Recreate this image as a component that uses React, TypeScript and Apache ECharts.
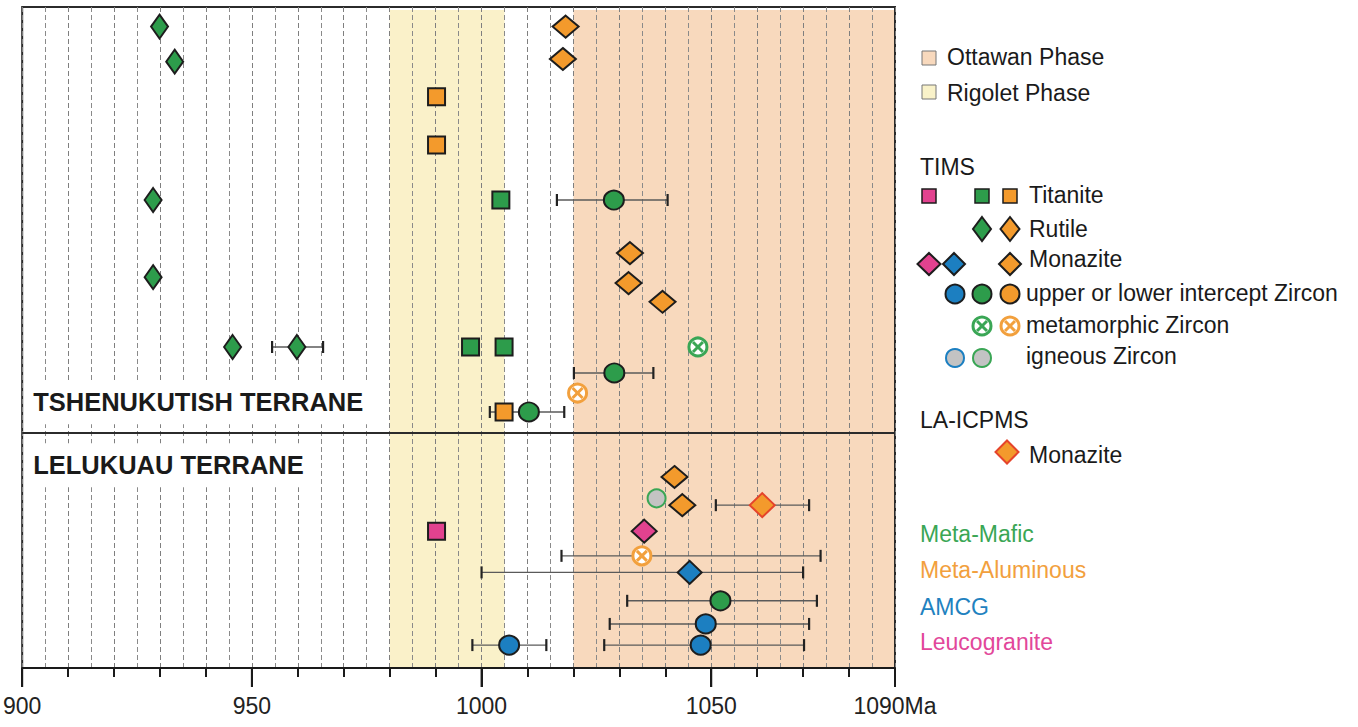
import React, { useEffect, useRef } from 'react';
import * as echarts from 'echarts';

const FONT = '"Liberation Sans", Arial, Helvetica, sans-serif';

// Age axis (Ma) and vertical sample positions (row units, top = 0)
const AGE_MIN = 900;
const AGE_MAX = 1090;
const ROW_MAX = 30;
const majorTickValues = [900, 950, 1000, 1050, 1090];

// Orogenic phases (Ma)
const rigoletPhase = [980, 1005];
const ottawanPhase = [1020, 1090];

// Boundary between the two terranes (row position)
const terraneBoundaryRow = 19.34;
const terraneNames = ['TSHENUKUTISH TERRANE', 'LELUKUAU TERRANE'];
const terraneLabelRows = [17.94, 20.8];

// TIMS ages: [age Ma, row]
const titanitePink = [[990.2, 23.79]];
const titaniteGreen = [[1004.2, 8.76], [997.6, 15.43], [1004.9, 15.43]];
const titaniteOrange = [[990.2, 4.07], [990.2, 6.26], [1004.9, 18.38]];
const rutileGreen = [[929.9, 0.89], [933.2, 2.48], [928.5, 8.76], [928.5, 12.26], [945.8, 15.43], [959.8, 15.43]];
const monazitePink = [[1035.4, 23.79]];
const monaziteBlue = [[1045.3, 25.66]];
const monaziteOrange = [[1018.3, 0.89], [1017.7, 2.36], [1032.3, 11.17], [1032.0, 12.53], [1039.4, 13.38], [1042.0, 21.33], [1043.7, 22.61]];
const interceptZirconBlue = [[1048.8, 28.0], [1006.0, 28.96], [1047.7, 28.96]];
const interceptZirconGreen = [[1028.8, 8.76], [1028.9, 16.61], [1010.3, 18.38], [1052.0, 26.95]];
const metamorphicZirconGreen = [[1047.1, 15.43]];
const metamorphicZirconOrange = [[1020.9, 17.52], [1034.9, 24.91]];
const igneousZirconGreen = [[1038.1, 22.3]];
// LA-ICPMS monazite
const laMonaziteOrange = [[1061.1, 22.61]];

// Uncertainty ranges: [lower Ma, upper Ma, row]
const errorRanges = [
  [1016.4, 1040.5, 8.76],
  [954.4, 965.5, 15.43],
  [1020.1, 1037.4, 16.61],
  [1001.8, 1018.0, 18.38],
  [1051.0, 1071.3, 22.61],
  [1017.4, 1073.8, 24.91],
  [1000.0, 1070.0, 25.66],
  [1031.7, 1073.0, 26.95],
  [1027.9, 1071.3, 28.0],
  [998.0, 1014.1, 28.96],
  [1026.7, 1070.2, 28.96],
];

const C = {
  green: '#2d9c4b',
  orange: '#f39a2c',
  blue: '#1c7fc1',
  pink: '#e2428f',
  gray: '#c3c3c3',
  edge: '#1d1d1d',
  red: '#e5442b',
  rigolet: '#faf1c9',
  ottawan: '#f8d9bd',
  textGreen: '#3aa655',
  textOrange: '#f2a03d',
  textBlue: '#1f82c0',
  textPink: '#e2479a',
};

const LEGEND_FONT = `23px ${FONT}`;

function scatter(name: string, data: number[][], symbol: string, size: number | number[], color: string, border = C.edge) {
  return {
    name,
    type: 'scatter',
    data,
    symbol,
    symbolSize: size,
    z: 5,
    itemStyle: { color, borderColor: border, borderWidth: 2, opacity: 1 },
    emphasis: { disabled: true },
  };
}

function metaZirconShape(cx: number, cy: number, color: string) {
  const r = 9;
  const d = 5;
  return {
    type: 'group',
    children: [
      { type: 'circle', shape: { cx, cy, r }, style: { fill: '#fff', stroke: color, lineWidth: 3 } },
      { type: 'line', shape: { x1: cx - d, y1: cy - d, x2: cx + d, y2: cy + d }, style: { stroke: color, lineWidth: 3 } },
      { type: 'line', shape: { x1: cx - d, y1: cy + d, x2: cx + d, y2: cy - d }, style: { stroke: color, lineWidth: 3 } },
    ],
  };
}

function metaZirconSeries(name: string, data: number[][], color: string) {
  return {
    name,
    type: 'custom',
    z: 5,
    data,
    encode: { x: 0, y: 1 },
    renderItem: (_p: any, api: any) => {
      const pt = api.coord([api.value(0), api.value(1)]);
      return metaZirconShape(pt[0], pt[1], color);
    },
  };
}

// Legend helpers
const legendText = (x: number, y: number, text: string, fill = '#1a1a1a') => ({
  type: 'text',
  x,
  y,
  style: { text, fill, font: LEGEND_FONT, textAlign: 'left', textVerticalAlign: 'middle', align: 'left', verticalAlign: 'middle' },
});
const legendSquare = (cx: number, cy: number, size: number, fill: string, stroke = C.edge, lw = 1.5) => ({
  type: 'rect',
  shape: { x: cx - size / 2, y: cy - size / 2, width: size, height: size },
  style: { fill, stroke, lineWidth: lw },
});
const legendDiamond = (cx: number, cy: number, w: number, h: number, fill: string, stroke = C.edge) => ({
  type: 'polygon',
  shape: { points: [[cx, cy - h / 2], [cx + w / 2, cy], [cx, cy + h / 2], [cx - w / 2, cy]] },
  style: { fill, stroke, lineWidth: 2 },
});
const legendCircle = (cx: number, cy: number, r: number, fill: string, stroke = C.edge) => ({
  type: 'circle',
  shape: { cx, cy, r },
  style: { fill, stroke, lineWidth: 2 },
});

export default function App() {
  const ref = useRef<HTMLDivElement>(null);

  useEffect(() => {
    if (!ref.current) return;
    const chart = echarts.init(ref.current, undefined, { renderer: 'svg' });

    const bandData = [
      [rigoletPhase[0], rigoletPhase[1]],
      [ottawanPhase[0], ottawanPhase[1]],
    ];
    const bandColors = [C.rigolet, C.ottawan];

    const legendGraphic = [
      legendSquare(929, 58, 14, C.ottawan, '#777', 1),
      legendText(947, 57, 'Ottawan Phase'),
      legendSquare(929, 92, 14, '#f9f2c9', '#777', 1),
      legendText(947, 93, 'Rigolet Phase'),

      legendText(920, 167, 'TIMS'),
      legendSquare(929, 196, 14, C.pink),
      legendSquare(982, 196, 14, C.green),
      legendSquare(1010, 196, 14, C.orange),
      legendText(1029, 195, 'Titanite'),

      legendDiamond(982, 229, 18, 24, C.green),
      legendDiamond(1010, 229, 19, 24, C.orange),
      legendText(1029, 229, 'Rutile'),

      legendDiamond(929, 264, 23, 22, C.pink),
      legendDiamond(954, 264, 22, 22, C.blue),
      legendDiamond(1010, 264, 22, 22, C.orange),
      legendText(1029, 259, 'Monazite'),

      legendCircle(955, 294, 9.5, C.blue),
      legendCircle(982, 294, 9.5, C.green),
      legendCircle(1010, 294, 9.5, C.orange),
      legendText(1026, 293, 'upper or lower intercept Zircon'),

      metaZirconShape(982, 326, C.textGreen),
      metaZirconShape(1010, 326, C.textOrange),
      legendText(1026, 325, 'metamorphic Zircon'),

      legendCircle(955, 358, 9, C.gray, C.blue),
      legendCircle(982, 358, 9, C.gray, C.textGreen),
      legendText(1026, 356, 'igneous Zircon'),

      legendText(920, 420, 'LA-ICPMS'),
      legendDiamond(1007, 452, 23, 23, C.orange, C.red),
      legendText(1029, 455, 'Monazite'),

      legendText(920, 534, 'Meta-Mafic', C.textGreen),
      legendText(920, 570, 'Meta-Aluminous', C.textOrange),
      legendText(920, 607, 'AMCG', C.textBlue),
      legendText(920, 642, 'Leucogranite', C.textPink),
    ];

    chart.setOption({
      animation: false,
      backgroundColor: '#fff',
      textStyle: { fontFamily: FONT },
      grid: {
        left: 22,
        top: 7,
        width: 873,
        height: 661,
        show: true,
        borderColor: '#2b2b2b',
        borderWidth: 2,
        backgroundColor: 'transparent',
        containLabel: false,
      },
      xAxis: [
        {
          type: 'value',
          min: AGE_MIN,
          max: AGE_MAX,
          interval: 10,
          position: 'bottom',
          axisLine: { show: true, onZero: false, lineStyle: { color: '#1a1a1a', width: 2 } },
          axisTick: { show: true, length: 9, lineStyle: { color: '#1a1a1a', width: 2 } },
          axisLabel: { show: false },
          splitLine: { show: true, lineStyle: { type: [5, 3], color: '#7f7f7f', width: 1 } },
          minorTick: { show: false, splitNumber: 2 },
          minorSplitLine: { show: true, lineStyle: { type: [5, 3], color: '#8a8a8a', width: 1 } },
        },
        {
          // long ticks and labels at the major ages
          type: 'value',
          min: AGE_MIN,
          max: AGE_MAX,
          interval: 50,
          position: 'bottom',
          axisLine: { show: false, onZero: false },
          axisTick: { show: true, length: 19, lineStyle: { color: '#1a1a1a', width: 2 } },
          axisLabel: {
            show: true,
            showMaxLabel: true,
            showMinLabel: true,
            margin: 26,
            fontSize: 23,
            color: '#222',
            fontFamily: FONT,
            formatter: (v: number) => (v === AGE_MAX ? `${v}Ma` : String(v)),
          },
          splitLine: { show: false },
        },
      ],
      yAxis: { type: 'value', min: 0, max: ROW_MAX, inverse: true, show: false },
      graphic: legendGraphic,
      series: [
        {
          name: 'phases',
          type: 'custom',
          z: -1,
          silent: true,
          data: bandData,
          encode: { x: [0, 1] },
          renderItem: (params: any, api: any) => {
            const a = api.coord([api.value(0), 0]);
            const b = api.coord([api.value(1), ROW_MAX]);
            const cs = params.coordSys;
            return {
              type: 'rect',
              shape: { x: a[0], y: cs.y + 3, width: b[0] - a[0], height: cs.height - 3 },
              style: { fill: bandColors[params.dataIndex] },
            };
          },
        },
        {
          name: 'uncertainty',
          type: 'custom',
          z: 3,
          silent: true,
          data: errorRanges,
          encode: { x: [0, 1], y: 2 },
          renderItem: (_p: any, api: any) => {
            const lo = api.coord([api.value(0), api.value(2)]);
            const hi = api.coord([api.value(1), api.value(2)]);
            const cap = 6;
            return {
              type: 'group',
              children: [
                { type: 'line', shape: { x1: lo[0], y1: lo[1], x2: hi[0], y2: hi[1] }, style: { stroke: '#5a5a5a', lineWidth: 1.4 } },
                { type: 'line', shape: { x1: lo[0], y1: lo[1] - cap, x2: lo[0], y2: lo[1] + cap }, style: { stroke: '#222', lineWidth: 2.2 } },
                { type: 'line', shape: { x1: hi[0], y1: hi[1] - cap, x2: hi[0], y2: hi[1] + cap }, style: { stroke: '#222', lineWidth: 2.2 } },
              ],
            };
          },
          markLine: {
            silent: true,
            symbol: ['none', 'none'],
            label: { show: false },
            lineStyle: { color: '#2b2b2b', width: 2, type: 'solid' },
            data: [{ yAxis: terraneBoundaryRow }],
          },
        },
        {
          name: 'terranes',
          type: 'custom',
          z: 4,
          silent: true,
          data: terraneLabelRows.map((r) => [AGE_MIN, r]),
          encode: { x: 0, y: 1 },
          renderItem: (params: any, api: any) => {
            const p = api.coord([api.value(0), api.value(1)]);
            const first = params.dataIndex === 0;
            return {
              type: 'text',
              x: p[0] + 2,
              y: p[1],
              style: {
                text: terraneNames[params.dataIndex],
                font: `bold 25.5px ${FONT}`,
                fill: '#1a1a1a',
                textAlign: 'left',
                textVerticalAlign: 'middle',
                align: 'left',
                verticalAlign: 'middle',
                backgroundColor: '#fff',
                padding: first ? [12, 4, 6, 9] : [6, 8, 12, 9],
              },
            };
          },
        },
        scatter('Titanite leucogranite', titanitePink, 'rect', 17, C.pink),
        scatter('Titanite meta-mafic', titaniteGreen, 'rect', 17, C.green),
        scatter('Titanite meta-aluminous', titaniteOrange, 'rect', 17, C.orange),
        scatter('Rutile meta-mafic', rutileGreen, 'diamond', [17, 24], C.green),
        scatter('Monazite leucogranite', monazitePink, 'diamond', [25, 23], C.pink),
        scatter('Monazite AMCG', monaziteBlue, 'diamond', [24, 23], C.blue),
        scatter('Monazite meta-aluminous', monaziteOrange, 'diamond', [26, 22], C.orange),
        scatter('Zircon AMCG', interceptZirconBlue, 'circle', [20, 19], C.blue),
        scatter('Zircon meta-mafic', interceptZirconGreen, 'circle', [20, 19], C.green),
        scatter('Igneous zircon meta-mafic', igneousZirconGreen, 'circle', 18, C.gray, C.textGreen),
        scatter('LA-ICPMS monazite', laMonaziteOrange, 'diamond', [25, 24], C.orange, C.red),
        metaZirconSeries('Metamorphic zircon meta-mafic', metamorphicZirconGreen, C.textGreen),
        metaZirconSeries('Metamorphic zircon meta-aluminous', metamorphicZirconOrange, C.textOrange),
      ],
    });

    // Long tick marks below the axis line at the labelled ages, placed through the axis scale
    const majorTicks = majorTickValues.map((v) => {
      const p = chart.convertToPixel({ xAxisIndex: 0, yAxisIndex: 0 }, [v, ROW_MAX]) as number[];
      return {
        type: 'rect',
        z: 100,
        shape: { x: p[0] - 1, y: p[1], width: 2, height: 19 },
        style: { fill: '#1a1a1a' },
      };
    });
    chart.setOption({ graphic: [...legendGraphic, ...majorTicks] });

    return () => chart.dispose();
  }, []);

  return (
    <div
      ref={ref}
      style={{ position: 'fixed', left: 0, top: 0, width: 1358, height: 727, background: '#fff' }}
    />
  );
}
